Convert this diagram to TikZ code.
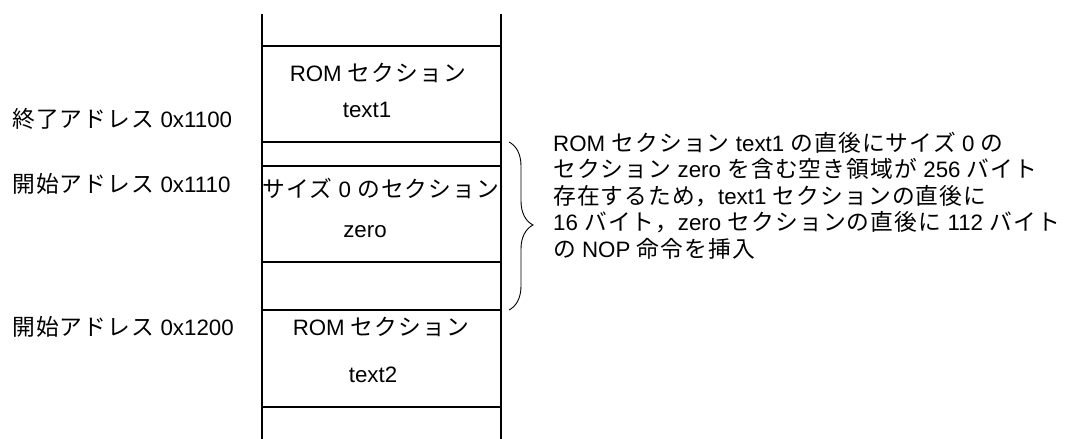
\documentclass[tikz,border=0pt]{standalone}
\usepackage{fontspec}
\setmainfont{Liberation Sans}
\newfontfamily\jp[Scale=1.02,LetterSpace=5]{Noto Sans CJK JP}
\usetikzlibrary{decorations.pathreplacing}
\newcommand\J[1]{{\jp #1}}
\begin{document}
\begin{tikzpicture}[x=1pt,y=-1pt,
  memline/.style={line width=2pt},
  lbl/.style={inner sep=0pt, font=\fontsize{22.3}{26.5}\selectfont},
  bracestyle/.style={line width=0.9pt, decorate, decoration={brace, amplitude=24pt, aspect=0.494}}]
\useasboundingbox (0,0) rectangle (1071,439);
% memory column
\coordinate (colTL) at (262,14);
\coordinate (colBL) at (262,439);
\coordinate (colTR) at (501,14);
\coordinate (colBR) at (501,439);
\draw[memline] (colTL) -- (colBL);
\draw[memline] (colTR) -- (colBR);
\foreach \y in {46,142,166,262,310,407}
  \draw[memline] (262,\y) -- (501,\y);
% section labels
\node[lbl, anchor=base] (rom1) at (378,81) {ROM \J{セクション}};
\node[lbl, anchor=base] (t1) at (367,117) {text1};
\node[lbl, anchor=base] (sz) at (381,197) {\J{サイズ} 0 \J{のセクション}};
\node[lbl, anchor=base] (zr) at (365,237) {zero};
\node[lbl, anchor=base] (rom2) at (381,335) {ROM \J{セクション}};
\node[lbl, anchor=base] (t2) at (373,382) {text2};
% addresses
\node[lbl, anchor=base west] (a1) at (12,127) {\J{終了アドレス} 0x1100};
\node[lbl, anchor=base west] (a2) at (12,192) {\J{開始アドレス} 0x1110};
\node[lbl, anchor=base west] (a3) at (12,335) {\J{開始アドレス} 0x1200};
% brace
\coordinate (gapTop) at (509,142);
\coordinate (gapBot) at (509,310);
\draw[bracestyle] (gapTop) -- (gapBot);
% explanation
\node[lbl, anchor=base west] (e1) at (553,151) {ROM \J{セクション} text1 \J{の直後にサイズ} 0 \J{の}};
\node[lbl, anchor=base west] (e2) at (553,177.5) {\J{セクション} zero \J{を含む空き領域が} 256 \J{バイト}};
\node[lbl, anchor=base west] (e3) at (553,204) {\J{存在するため，}text1 \J{セクションの直後に}};
\node[lbl, anchor=base west] (e4) at (553,230.5) {16 \J{バイト，}zero \J{セクションの直後に} 112 \J{バイト}};
\node[lbl, anchor=base west] (e5) at (553,257) {\J{の} NOP \J{命令を挿入}};
\end{tikzpicture}
\end{document}
